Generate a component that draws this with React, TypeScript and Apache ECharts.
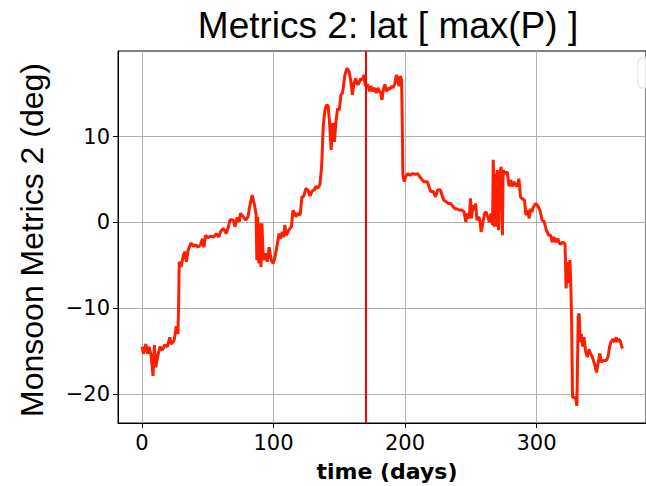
import React, { useEffect, useRef } from "react";
import * as echarts from "echarts";

// time (days) and latitude of max precipitation (deg)
const days: number[] = [
  0, 1.2, 2.9, 4.4, 5.4, 6.9, 8.4, 9.4, 10.4, 11.9, 13.6, 15.4, 17.3, 19.3, 21.1, 22.3, 24.3, 25.3, 26.0, 27.3,
  27.8, 28.3, 29.7, 31.5, 32.7, 33.7, 35.2, 37.2, 39.2, 40.9, 42.6, 44.6, 45.9, 47.1, 48.3, 50.1, 52.1, 54.5, 56.5, 58.3,
  60.0, 62.0, 64.0, 65.7, 66.9,
  69.4, 70.7, 72.4, 73.9, 74.9, 76.9, 78.9, 80.6, 82.3, 83.8, 85.6, 86.8, 87.3, 88.0, 88.8, 89.8, 90.5, 91.2, 92.2, 93.7,
  95.2, 96.7, 98.2, 99.7, 101.2, 102.9, 104.2, 105.4, 106.6, 107.8, 108.6, 109.6, 111.6, 113.6, 114.8, 116.1, 117.1, 118.6,
  120.3, 121.6, 122.9, 124.6, 126.1, 127.8, 129.1, 131.1, 132.1, 133.6, 135.3, 136.6, 137.8, 139.1, 140.3, 141.6, 142.8,
  143.8, 145.1, 146.3, 147.5, 148.8, 150.0, 151.3, 152.5, 154.3, 155.8, 157.5, 158.7, 160.0, 161.2, 162.5, 163.7, 164.9,
  166.2, 167.4, 168.7, 169.9, 171.6, 173.1, 174.1, 175.6, 176.8, 178.1, 179.3, 180.5, 181.5, 182.5, 183.5, 184.7, 186.0,
  187.2, 188.4, 189.7, 190.9, 192.1, 193.4, 194.6, 195.4, 196.4, 197.4, 197.9, 198.4, 199.4, 200.4, 202.1, 203.8, 205.8,
  207.8, 209.5, 211.3, 213.3,
  214.5, 217.0, 218.2, 219.5, 221.5, 223.2, 224.9, 226.9, 228.1, 229.4, 231.4, 233.1, 234.8, 236.8, 238.1, 239.3, 241.3,
  243.1, 244.8, 246.3, 247.3, 248.8, 249.8, 250.5, 251.8, 253.0, 253.7, 254.7, 256.2, 257.2, 257.9, 259.2, 260.4, 261.6,
  262.9, 264.1, 265.4, 266.6, 267.1, 267.9, 268.6, 269.4, 270.1, 271.1, 272.1, 273.1, 274.1, 274.6, 276.1, 277.8, 279.1,
  280.3, 281.6, 282.8, 284.1, 285.3, 286.6, 287.8,
  288.9, 290.9, 291.9, 293.4, 294.4, 295.4, 296.4, 297.6, 299.3, 300.8, 302.6, 304.3, 305.8, 307.5, 309.3, 310.8, 311.8,
  313.3, 314.5, 316.3, 317.5, 318.7, 320.0, 321.7, 322.5, 323.7, 324.5, 325.4, 326.2, 326.7, 327.4, 328.7, 329.9, 330.7,
  331.7, 332.4, 333.2, 334.1, 335.1, 336.1, 337.4, 338.6, 339.9, 341.1, 342.4, 344.1, 345.6, 346.8, 348.1, 349.3, 351.1,
  353.1, 354.3, 355.6, 356.5, 358.1, 359.3, 360.6, 361.6, 362.3, 363.6, 364.8, 365.6,
];

const latMaxP: number[] = [
  -14.5, -15.3, -14.2, -15.3, -14.5, -15.5, -17.9, -14.3, -16.9, -15.7, -14.5, -14.9, -14.3, -14.5, -13.4, -14.2, -13.8, -13.0, -12.1, -13.0,
  -9.9, -4.6, -5.2, -3.8, -3.4, -4.6, -3.2, -2.4, -2.8, -2.6, -2.9, -2.6, -1.9, -2.9, -1.5, -1.8, -1.6, -1.7, -1.3, -1.7,
  -1.0, -0.7, -1.3, -0.5, 0.3,
  0.27, -0.5, 0.6, 0.07, 1.06, 0.67, 0.27, 0.67, 2.2, 3.2, 2.0, 0.85, -4.4, 0.67, -4.8, -0.1, -5.2, -0.1, -4.4, -3.6,
  -4.6, -2.9, -4.4, -4.8, -4.0, -2.5, -1.3, -1.9, -1.1, -1.7, -0.3, -1.5, -0.9, -0.5, 1.4, 1.1, 0.67, 1.06,
  0.86, 3.0, 3.0, 3.98, 3.8, 3.1, 3.6, 3.8, 4.2, 3.98, 4.4, 6.5, 11.2, 13.1, 13.7, 13.6, 11.2,
  8.46, 11.6, 9.4, 11.8, 13.3, 13.1, 14.9, 15.1, 17.2, 18.0, 17.6, 16.6, 14.9, 16.2, 16.8, 16.1, 16.2,
  16.8, 16.6, 17.2, 15.9, 16.1, 15.3, 15.9, 15.3, 15.7, 15.1, 15.7, 15.3, 15.1, 14.3, 15.5, 16.1, 15.3,
  15.7, 15.5, 15.9, 15.7, 16.1, 17.2, 16.6, 15.9, 17.1, 16.6, 11.8, 5.5, 4.76, 5.3, 5.7, 5.5, 5.7,
  5.6, 5.7, 5.3, 4.9,
  4.75, 4.75, 4.2, 3.6, 3.6, 3.0, 3.8, 3.8, 3.2, 2.6, 2.4, 2.2, 2.2, 1.8, 1.6, 1.6, 1.44,
  1.44, 1.25, 0.05, 1.05, 0.47, 2.8, 0.47, 2.0, 1.44, 2.2, 0.27, 0.66, -0.1, -1.1, -0.1, 1.05, 1.25,
  0.66, 0.05, 1.05, -0.3, 7.3, -0.5, 5.7, -0.5, 6.1, -0.9, 5.7, 6.5, -1.5, 6.1, 5.7, 5.9, 4.2,
  4.95, 4.2, 4.75, 4.36, 4.2, 5.1, 3.0,
  2.8, 2.6, 0.85, 1.4, 0.47, 1.6, 1.2, 1.8, 2.2, 2.0, 1.4, 0.27, 0.08, -0.9, -1.5, -1.5, -2.3,
  -1.7, -2.3, -1.9, -2.5, -2.5, -2.3, -2.5, -7.7, -4.6, -7.1, -4.4, -7.9, -11.8, -20.4, -20.4, -20.6, -21.4,
  -11.0, -10.6, -13.96, -13.0, -14.5, -13.4, -15.1, -15.7, -14.8, -15.3, -15.7, -16.5, -17.5, -16.5, -15.3, -16.3, -16.1,
  -16.1, -15.7, -14.5, -13.96, -13.6, -13.96, -13.4, -13.96, -13.6, -13.8, -14.5, -14.7,
];

const markerDay = 170.5;
const xTicks: number[] = [0, 100, 200, 300];
const yTicks: number[] = [-20, -10, 0, 10];
const xRange: number[] = [-18.25, 383.25];
const yRange: number[] = [-23.4, 20.0];

const TITLE = "Metrics 2: lat [ max(P) ]";
const Y_LABEL = "Monsoon Metrics 2 (deg)";
const X_LABEL = "time (days)";

export default function App() {
  const ref = useRef<HTMLDivElement>(null);
  useEffect(() => {
    if (!ref.current) return;
    const chart = echarts.init(ref.current, undefined, { renderer: "svg" });
    const sans = "'Liberation Sans', Arial, sans-serif";
    const tickFont = { fontFamily: "'DejaVu Sans'", fontSize: 21, color: "#000" };
    chart.setOption({
      animation: false,
      grid: {
        left: 118, top: 51, width: 539, height: 372,
        show: true, borderColor: "#000", borderWidth: 1, backgroundColor: "transparent",
      },
      xAxis: {
        type: "value", min: xRange[0], max: xRange[1],
        axisLine: { show: true, onZero: false, lineStyle: { color: "#000", width: 1 } },
        axisTick: { show: true, length: 5, customValues: xTicks, lineStyle: { color: "#000", width: 1 } },
        axisLabel: { ...tickFont, margin: 9, customValues: xTicks },
        splitLine: { show: true, lineStyle: { color: "#b0b0b0", width: 1 } },
      },
      yAxis: {
        type: "value", min: yRange[0], max: yRange[1],
        axisLine: { show: true, onZero: false, lineStyle: { color: "#000", width: 1 } },
        axisTick: { show: true, length: 5, customValues: yTicks, lineStyle: { color: "#000", width: 1 } },
        axisLabel: {
          ...tickFont, margin: 8, customValues: yTicks,
          formatter: (v: number) => (v < 0 ? "\u2212" + Math.abs(v) : String(v)),
        },
        splitLine: { show: true, lineStyle: { color: "#b0b0b0", width: 1 } },
      },
      series: [
        {
          type: "line",
          data: days.map((d, i) => [d, latMaxP[i]]),
          showSymbol: false,
          symbol: "none",
          lineStyle: { color: "#ff1e00", width: 3 },
          clip: true,
          markLine: {
            silent: true,
            symbol: "none",
            label: { show: false },
            lineStyle: { color: "#ff0000", width: 2, type: "solid" },
            data: [{ xAxis: markerDay }],
          },
        },
      ],
      graphic: [
        {
          type: "text", x: 388, y: 25,
          style: { text: TITLE, font: `37px ${sans}`, fill: "#000", textAlign: "center", textVerticalAlign: "middle" },
        },
        {
          type: "text", x: 32, y: 240, rotation: Math.PI / 2,
          style: { text: Y_LABEL, font: `32px ${sans}`, fill: "#000", textAlign: "center", textVerticalAlign: "middle" },
        },
        {
          type: "text", x: 387, y: 471,
          style: { text: X_LABEL, font: "bold 22px 'DejaVu Sans'", fill: "#000", textAlign: "center", textVerticalAlign: "middle" },
        },
        {
          type: "rect", x: 638, y: 58, shape: { width: 40, height: 30, r: 4 },
          style: { fill: "rgba(255,255,255,0.8)", stroke: "#e0e0e0", lineWidth: 1 },
        },
      ],
    });
    return () => chart.dispose();
  }, []);
  return (
    <div style={{ position: "absolute", left: 0, top: 0, width: 646, height: 486, overflow: "hidden", background: "#fff" }}>
      <div ref={ref} style={{ width: 646, height: 486 }} />
    </div>
  );
}
